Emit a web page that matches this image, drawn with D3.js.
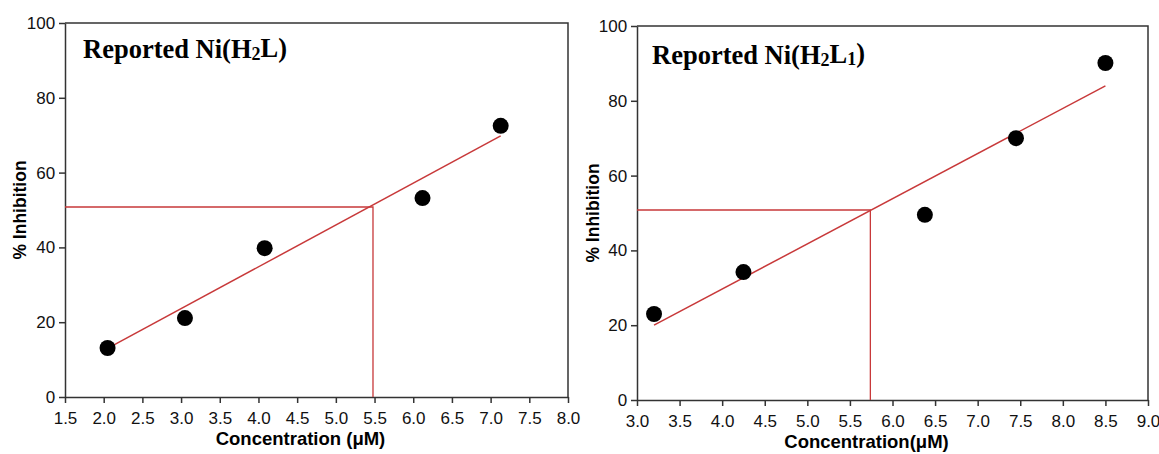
<!DOCTYPE html>
<html>
<head>
<meta charset="utf-8">
<script src="https://cdn.jsdelivr.net/npm/d3@7"></script>
<style>
  body { margin: 0; background: #fff; }
  svg text { font-family: "Liberation Sans", Arial, sans-serif; }
</style>
</head>
<body>
<svg id="chart" width="1159" height="454"></svg>
<script>
// Left panel data
const leftConc = [2.05, 3.05, 4.08, 6.12, 7.13];
const leftInhib = [13.1, 21.1, 39.8, 53.2, 72.5];
const leftFit = [[2.05, 13.0], [7.13, 69.8]];
const leftIC50 = [5.48, 50.8];

// Right panel data
const rightConc = [3.2, 4.25, 6.38, 7.45, 8.5];
const rightInhib = [23.0, 34.2, 49.5, 70.0, 90.1];
const rightFit = [[3.2, 20.0], [8.5, 84.0]];
const rightIC50 = [5.74, 50.8];

const RED = "#c8393a";
const AXIS = "#333";

const svg = d3.select("#chart");

const drawPanel = (opts) => {
  const g = svg.append("g");

  // Scales
  const x = d3.scaleLinear().domain(opts.xDomain).range([opts.left, opts.right]);
  const y = d3.scaleLinear().domain([0, 100]).range([opts.bottom, opts.top]);

  // Axes
  const xAxis = d3
    .axisBottom(x)
    .tickValues(d3.range(opts.xDomain[0], opts.xDomain[1] + 0.01, 0.5))
    .tickFormat(d3.format(".1f"))
    .tickSize(6)
    .tickSizeOuter(0);
  const yAxis = d3
    .axisLeft(y)
    .tickValues(d3.range(0, 101, 20))
    .tickSize(6)
    .tickSizeOuter(0);

  const gx = g
    .append("g")
    .attr("transform", `translate(0,${opts.bottom})`)
    .call(xAxis);
  const gy = g
    .append("g")
    .attr("transform", `translate(${opts.left},0)`)
    .call(yAxis);

  [gx, gy].forEach((a) => {
    a.selectAll("path, line").style("stroke", AXIS).style("stroke-width", 1.5);
    a.selectAll("text").style("font-size", "17px").style("fill", "#111");
  });
  gx.selectAll("text").attr("dy", "1.05em");
  gy.selectAll("text").attr("dx", "-0.05em");

  // Box top and right
  g.append("path")
    .attr("d", `M${opts.left},${opts.top}H${opts.right}V${opts.bottom}`)
    .style("fill", "none")
    .style("stroke", AXIS)
    .style("stroke-width", 1.5);

  // IC50 guide lines
  g.append("path")
    .attr(
      "d",
      `M${x(opts.xDomain[0])},${y(opts.ic50[1])}H${x(opts.ic50[0])}V${y(0)}`
    )
    .style("fill", "none")
    .style("stroke", RED)
    .style("stroke-width", 1.3);

  // Fit line
  g.append("path")
    .attr("d", d3.line().x((d) => x(d[0])).y((d) => y(d[1]))(opts.fit))
    .style("fill", "none")
    .style("stroke", RED)
    .style("stroke-width", 1.5);

  // Points
  g.selectAll("circle.pt")
    .data(opts.conc.map((c, i) => [c, opts.inhib[i]]))
    .enter()
    .append("circle")
    .attr("cx", (d) => x(d[0]))
    .attr("cy", (d) => y(d[1]))
    .attr("r", 8)
    .style("fill", "#000");

  // Axis titles
  g.append("text")
    .attr("x", (opts.left + opts.right) / 2 + opts.xTitleDx)
    .attr("y", opts.bottom + 48)
    .attr("text-anchor", "middle")
    .style("font-size", "18.5px")
    .style("font-weight", "bold")
    .text(opts.xTitle);

  g.append("text")
    .attr(
      "transform",
      `translate(${opts.yTitleX},${(opts.top + opts.bottom) / 2}) rotate(-90)`
    )
    .attr("text-anchor", "middle")
    .style("font-size", "17.5px")
    .style("font-weight", "bold")
    .text("% Inhibition");

  // Panel title with subscripts
  const t = g
    .append("text")
    .attr("x", opts.left + opts.titleDx)
    .attr("y", opts.top + opts.titleDy)
    .style("font-family", "'Liberation Serif', 'Times New Roman', serif")
    .style("font-size", "26.5px")
    .style("font-weight", "bold");
  opts.titleParts.forEach((p) => {
    t.append("tspan")
      .attr("dy", p.sub ? "0.12em" : p.after ? "-0.12em" : null)
      .style("font-size", p.sub ? "18px" : null)
      .text(p.text);
  });
};

drawPanel({
  xDomain: [1.5, 8.0],
  left: 65,
  right: 568,
  top: 23,
  bottom: 397,
  conc: leftConc,
  inhib: leftInhib,
  fit: leftFit,
  ic50: leftIC50,
  xTitle: "Concentration (\u03bcM)",
  xTitleDx: -16,
  yTitleX: 26,
  titleDx: 18,
  titleDy: 35,
  titleParts: [
    { text: "Reported Ni(H" },
    { text: "2", sub: true },
    { text: "L)", after: true },
  ],
});

drawPanel({
  xDomain: [3.0, 9.0],
  left: 637,
  right: 1148,
  top: 26,
  bottom: 400,
  conc: rightConc,
  inhib: rightInhib,
  fit: rightFit,
  ic50: rightIC50,
  xTitle: "Concentration(\u03bcM)",
  xTitleDx: -26,
  yTitleX: 599,
  titleDx: 15,
  titleDy: 38,
  titleParts: [
    { text: "Reported Ni(H" },
    { text: "2", sub: true },
    { text: "L", after: true },
    { text: "1", sub: true },
    { text: ")", after: true },
  ],
});
</script>
</body>
</html>
